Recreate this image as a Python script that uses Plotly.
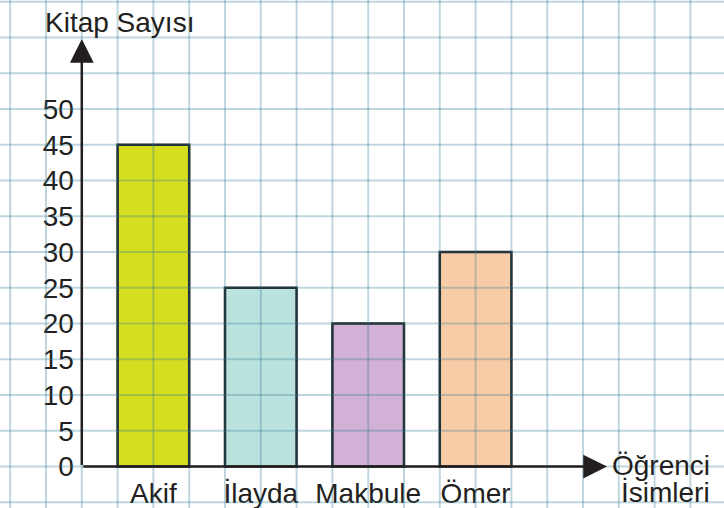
import plotly.graph_objects as go

# Kitap sayıları (öğrenci başına)
ogrenciler = ["Akif", "İlayda", "Makbule", "Ömer"]
kitap_sayisi = [45, 25, 20, 30]
bar_renkleri = ["#d6de20", "#bbe3de", "#d1b1d5", "#f8cca6"]
y_ticks = [0, 5, 10, 15, 20, 25, 30, 35, 40, 45, 50]

W, H = 724, 508
CELL_X = 35.8          # px per grid cell horizontally
PX_PER_UNIT = 7.15     # px per book vertically (5 books = one cell)
ORIGIN_X = 81.8        # px of the vertical axis
ORIGIN_Y = 466.5       # px of the horizontal axis

x_range = [-ORIGIN_X / CELL_X, (W - ORIGIN_X) / CELL_X]
y_range = [-(H - ORIGIN_Y) / PX_PER_UNIT, ORIGIN_Y / PX_PER_UNIT]

# bars sit two cells wide with one empty cell between them
konumlar = [2 + 3 * i for i in range(len(ogrenciler))]

TEXT = "#231f20"
FONT = "Liberation Sans, Arial, sans-serif"
FS = 28

fig = go.Figure()
fig.add_trace(go.Bar(
    x=konumlar, y=kitap_sayisi, width=2,
    marker=dict(color=bar_renkleri, line=dict(color="#1e1e1e", width=2.5)),
    hoverinfo="skip",
))

# squared-paper grid, drawn over the bars so it shows through them
grid_color = "rgba(45,118,148,0.3)"
shapes = []
gx = int(x_range[0]) - 1
while gx <= x_range[1] + 1:
    shapes.append(dict(type="line", xref="x", yref="y", x0=gx, x1=gx,
                       y0=y_range[0], y1=y_range[1], layer="above",
                       line=dict(color=grid_color, width=2)))
    gx += 1
gy = -10
while gy <= y_range[1] + 5:
    shapes.append(dict(type="line", xref="x", yref="y", x0=x_range[0], x1=x_range[1],
                       y0=gy, y1=gy, layer="above",
                       line=dict(color=grid_color, width=2)))
    gy += 5

annotations = [
    # axes with arrow heads
    dict(x=0, y=(ORIGIN_Y - 39) / PX_PER_UNIT, ax=0, ay=0, xref="x", yref="y",
         axref="x", ayref="y", showarrow=True, arrowhead=2, arrowsize=1.9,
         arrowwidth=2.5, arrowcolor=TEXT, text=""),
    dict(x=(607 - ORIGIN_X) / CELL_X, y=0, ax=0, ay=0, xref="x", yref="y",
         axref="x", ayref="y", showarrow=True, arrowhead=2, arrowsize=1.9,
         arrowwidth=2.5, arrowcolor=TEXT, text=""),
    dict(x=(119 - ORIGIN_X) / CELL_X, y=(ORIGIN_Y - 22) / PX_PER_UNIT, xref="x", yref="y",
         text="Kitap Sayısı", showarrow=False, xanchor="center", yanchor="middle",
         font=dict(family=FONT, size=FS, color=TEXT)),
    dict(x=(712 - ORIGIN_X) / CELL_X, y=(ORIGIN_Y - 465) / PX_PER_UNIT, xref="x", yref="y",
         text="Öğrenci", showarrow=False, xanchor="right", yanchor="middle",
         font=dict(family=FONT, size=FS, color=TEXT)),
    dict(x=(712 - ORIGIN_X) / CELL_X, y=(ORIGIN_Y - 492) / PX_PER_UNIT, xref="x", yref="y",
         text="İsimleri", showarrow=False, xanchor="right", yanchor="middle",
         font=dict(family=FONT, size=FS, color=TEXT)),
]

fig.update_layout(
    width=W, height=H,
    margin=dict(l=0, r=0, t=0, b=0),
    paper_bgcolor="white", plot_bgcolor="white",
    showlegend=False,
    shapes=shapes, annotations=annotations,
    xaxis=dict(range=x_range, showgrid=False, zeroline=False, showline=False,
               tickmode="array", tickvals=konumlar, ticktext=ogrenciler,
               ticks="", ticklabelstandoff=7,
               anchor="free", position=(H - ORIGIN_Y) / H, automargin=False,
               tickfont=dict(family=FONT, size=FS, color=TEXT)),
    yaxis=dict(range=y_range, showgrid=False, zeroline=False, showline=False,
               tickmode="array", tickvals=y_ticks, ticks="", ticklabelstandoff=8,
               anchor="free", position=ORIGIN_X / W, automargin=False,
               tickfont=dict(family=FONT, size=FS, color=TEXT)),
)

fig.write_html("out.html")
